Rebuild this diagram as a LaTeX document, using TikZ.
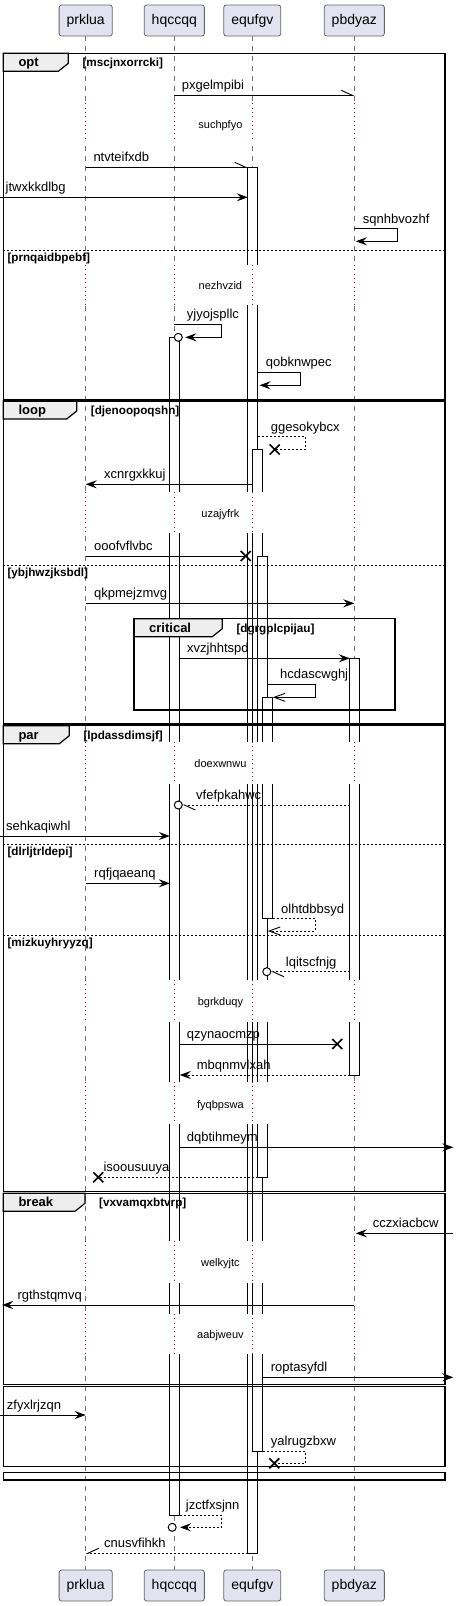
\documentclass[tikz,border=0pt]{standalone}
\usepackage{fontspec}
\setmainfont{Liberation Sans}
\usetikzlibrary{arrows.meta,positioning}

\definecolor{boxfill}{HTML}{E2E2F0}
\definecolor{tabgray}{HTML}{EEEEEE}
\definecolor{delayred}{HTML}{A80036}

\tikzset{
  actor/.style={draw=black!60, fill=boxfill, rounded corners=2.5pt, line width=0.8pt,
    minimum height=31pt, inner xsep=7.5pt, font=\fontsize{14}{16}\selectfont},
  lifeline/.style={draw=black!55, line width=0.7pt, dash pattern=on 5pt off 5pt},
  delayline/.style={draw=delayred, line width=0.9pt, dash pattern=on 1pt off 3.3pt},
  actbox/.style={draw=black, fill=white, line width=0.8pt},
  msg/.style={draw=black, line width=0.9pt},
  ret/.style={msg, dash pattern=on 2pt off 2pt},
  full/.style={-{Stealth[length=11pt,width=8pt,inset=4pt]}},
  barb/.style={-{Straight Barb[length=11pt,width=8pt]}},
  halfl/.style={-{Straight Barb[length=11pt,width=10pt,left]}},
  halfr/.style={-{Straight Barb[length=11pt,width=10pt,right]}},
  circ/.style={draw=black, fill=white, line width=1pt},
  frame/.style={draw=black, line width=1.5pt},
  tab/.style={draw=black, fill=tabgray, line width=1.2pt},
  sep/.style={draw=black, line width=0.8pt, dash pattern=on 2pt off 2pt},
  lbl/.style={anchor=base west, inner sep=0pt, font=\fontsize{13}{15}\selectfont},
  guard/.style={anchor=base west, inner sep=0pt, font=\bfseries\fontsize{11.7}{13}\selectfont},
  flabel/.style={anchor=base west, inner sep=0pt, font=\bfseries\fontsize{13}{15}\selectfont},
  delaytxt/.style={anchor=base, inner sep=0pt, font=\fontsize{11}{13}\selectfont},
  xcross/.pic={\draw[line width=1.6pt] (-5,-5) -- (5,5) (-5,5) -- (5,-5);}
}

% group frame: name, left, top, right, bottom, tab right, keyword, guard
\newcommand{\groupframe}[8]{%
  \filldraw[tab] (#2,#3) -- (#6,#3) -- (#6,#3+10) -- (#6-10,#3+18) -- (#2,#3+18) -- cycle;
  \draw[frame] (#2,#3) rectangle (#4,#5);
  \node[flabel] (#1) at (#2+15,#3+13.5) {#7};
  \node[guard] (#1-guard) at (#6+14,#3+13.5) {#8};
}
% else separator: name, y, guard
\newcommand{\elsesep}[3]{%
  \draw[sep] (3.3,#2) -- (445,#2);
  \node[guard] (#1) at (7.3,#2+11) {#3};
}

\begin{document}
\begin{tikzpicture}[x=1pt,y=-1pt]
  \useasboundingbox (0,0) rectangle (459,1606);

  % participants and lifelines
  \foreach \n/\x in {prklua/85.7, hqccqq/174.3, equfgv/252.3, pbdyaz/354.3} {
    \node[actor] (\n) at (\x,20.5) {\n};
    \node[actor] (\n-end) at (\x,1585.5) {\n};
    \draw[lifeline] (\n.south) -- (\n-end.north);
  }

  % activation edges and diagram edges
  \coordinate (lft) at (0,0);
  \coordinate (rgt) at (453.3,0);
  \coordinate (hqL) at (169.8,0);  \coordinate (hqR) at (179.8,0);
  \coordinate (pbL) at (349.8,0);  \coordinate (pbR) at (359.8,0);
  \coordinate (eqL1) at (247.8,0); \coordinate (eqR1) at (257.8,0);
  \coordinate (eqL2) at (252.8,0); \coordinate (eqR2) at (262.8,0);
  \coordinate (eqL3) at (257.8,0); \coordinate (eqR3) at (267.8,0);
  \coordinate (eqL4) at (262.8,0); \coordinate (eqR4) at (272.8,0);

  % activations
  \foreach \l/\r/\ya/\yb in {eqL1/eqR1/167.3/1553.3, hqL/hqR/337.3/1515,
      eqL2/eqR2/449.3/1451, eqL3/eqR3/556/1177.3, pbL/pbR/658.3/1075,
      eqL4/eqR4/697.3/918.7}
    \draw[actbox] (\l |- 0,\ya) rectangle (\r |- 0,\yb);

  % delays
  \foreach \ya/\yb/\yt/\txt [count=\i] in {103.3/141/128.8/suchpfyo,
      265/305/289.3/nezhvzid, 492.3/533.3/517.3/uzajyfrk,
      741.7/784/767.3/doexwnwu, 980/1021.7/1005.7/bgrkduqy,
      1081.7/1124.3/1108.7/fyqbpswa, 1241/1283.3/1266.7/welkyjtc,
      1314/1354/1338.3/aabjweuv} {
    \fill[white] (4.5,\ya) rectangle (443.5,\yb);
    \foreach \n in {prklua,hqccqq,equfgv,pbdyaz}
      \draw[delayline] (\n |- 0,\ya) -- (\n |- 0,\yb);
    \node[delaytxt] (delay\i) at (220.4,\yt) {\txt};
  }

  % groups
  \groupframe{optgrp}{3.3}{53.3}{445}{399.3}{68.3}{opt}{[mscjnxorrcki]}
  \elsesep{optelse}{250.3}{[prnqaidbpebf]}
  \groupframe{loopgrp}{3.3}{401}{445}{724}{76.7}{loop}{[djenoopoqshn]}
  \elsesep{loopelse}{565}{[ybjhwzjksbdl]}
  \groupframe{critgrp}{134}{618.7}{395}{710}{222.3}{critical}{[dgrgplcpijau]}
  \groupframe{pargrp}{3.3}{725.7}{445}{1191.7}{69.3}{par}{[lpdassdimsjf]}
  \elsesep{parelse}{844.7}{[dlrljtrldepi]}
  \elsesep{parelsetwo}{935.3}{[mizkuyhryyzq]}
  \groupframe{breakgrp}{3.3}{1193.3}{445}{1384.3}{85}{break}{[vxvamqxbtvrp]}
  \draw[frame] (3.3,1386.3) rectangle (445,1466.7);
  \draw[frame] (3.3,1472.7) rectangle (445,1480);

  % messages
  \draw[msg,halfl] (hqccqq |- 0,95.3) -- (pbdyaz |- 0,95.3);
  \node[lbl] (m1) at (181.7,89.8) {pxgelmpibi};
  \draw[msg,halfl] (prklua |- 0,167.3) -- (eqL1 |- 0,167.3);
  \node[lbl] (m2) at (93.3,161.8) {ntvteifxdb};
  \draw[msg,full] (lft |- 0,197.3) -- (eqL1 |- 0,197.3);
  \node[lbl] (m3) at (5.5,191.8) {jtwxkkdlbg};
  \draw[msg,full] (pbdyaz |- 0,228.7) -- ++(43,0) -- ++(0,12.6) -- ++(-41.5,0);
  \node[lbl] (m4) at (362.7,223.2) {sqnhbvozhf};
  \draw[msg,full] (hqccqq |- 0,324) -- ++(47,0) -- ++(0,13.3) -- ++(-36,0) coordinate (m5end);
  \draw[circ] (m5end) ++(-7,0) circle[radius=4];
  \node[lbl] (m5) at (186.7,318.5) {yjyojspllc};
  \draw[msg,full] (eqR1 |- 0,372.3) -- ++(42.9,0) -- ++(0,13) -- ++(-41.2,0);
  \node[lbl] (m6) at (265.7,366.8) {qobknwpec};
  \draw[ret] (eqR1 |- 0,436.7) -- ++(47.5,0) -- ++(0,12.8) -- ++(-30.6,0) coordinate (m7end);
  \pic at (m7end) {xcross};
  \node[lbl] (m7) at (270.7,431.2) {ggesokybcx};
  \draw[msg,full] (eqL2 |- 0,484.3) -- (prklua |- 0,484.3);
  \node[lbl] (m8) at (104,478.8) {xcnrgxkkuj};
  \draw[msg] (prklua |- 0,556) -- ++(160,0) coordinate (m9end);
  \pic at (m9end) {xcross};
  \node[lbl] (m9) at (94,550.5) {ooofvflvbc};
  \draw[msg,full] (prklua |- 0,603.3) -- (pbdyaz |- 0,603.3);
  \node[lbl] (m10) at (94,597.8) {qkpmejzmvg};
  \draw[msg,full] (hqR |- 0,658.3) -- (pbL |- 0,658.3);
  \node[lbl] (m11) at (187,652.8) {xvzjhhtspd};
  \draw[msg,barb] (eqR3 |- 0,684.3) -- ++(47.5,0) -- ++(0,13) -- (eqR4 |- 0,697.3);
  \node[lbl] (m12) at (280,678.8) {hcdascwghj};
  \draw[ret,halfl] (pbL |- 0,805) -- ([xshift=8pt]hqccqq |- 0,805);
  \draw[circ] ([xshift=4pt]hqccqq |- 0,805) circle[radius=4];
  \node[lbl] (m13) at (196,799.5) {vfefpkahwc};
  \draw[msg,full] (lft |- 0,836) -- (hqL |- 0,836);
  \node[lbl] (m14) at (6,830.5) {sehkaqiwhl};
  \draw[msg,full] (prklua |- 0,883.3) -- (hqL |- 0,883.3);
  \node[lbl] (m15) at (94,877.8) {rqfjqaeanq};
  \draw[ret,barb] (eqR4 |- 0,918.7) -- ++(42.5,0) -- ++(0,12.3) -- (eqR3 |- 0,931);
  \node[lbl] (m16) at (281,913.2) {olhtdbbsyd};
  \draw[ret,halfl] (pbL |- 0,971.7) -- ([xshift=3pt]eqR3 |- 0,971.7);
  \draw[circ] ([xshift=-1pt]eqR3 |- 0,971.7) circle[radius=4];
  \node[lbl] (m17) at (285.7,966.2) {lqitscfnjg};
  \draw[msg] (hqR |- 0,1044) -- ++(157.5,0) coordinate (m18end);
  \pic at (m18end) {xcross};
  \node[lbl] (m18) at (186.7,1038.5) {qzynaocmzp};
  \draw[ret,full] (pbL |- 0,1075) -- (hqR |- 0,1075);
  \node[lbl] (m19) at (196.7,1069.5) {mbqnmvlxah};
  \draw[msg,full] (hqR |- 0,1147.3) -- (rgt |- 0,1147.3);
  \node[lbl] (m20) at (186.7,1141.8) {dqbtihmeym};
  \draw[ret] (eqL3 |- 0,1177.3) -- ++(-159.5,0) coordinate (m21end);
  \pic at (m21end) {xcross};
  \node[lbl] (m21) at (103.3,1171.8) {isoousuuya};
  \draw[msg,full] (rgt |- 0,1233.3) -- ([xshift=1.5pt]pbdyaz |- 0,1233.3);
  \node[lbl] (m22) at (372.7,1227.8) {cczxiacbcw};
  \draw[msg,full] (pbdyaz |- 0,1305) -- ([xshift=2pt]lft |- 0,1305);
  \node[lbl] (m23) at (17.3,1299.5) {rgthstqmvq};
  \draw[msg,full] (eqR2 |- 0,1377.3) -- (rgt |- 0,1377.3);
  \node[lbl] (m24) at (270.7,1371.8) {roptasyfdl};
  \draw[msg,full] (lft |- 0,1415) -- (prklua |- 0,1415);
  \node[lbl] (m25) at (6.7,1409.5) {zfyxlrjzqn};
  \draw[ret] (eqR2 |- 0,1451) -- ++(42.5,0) -- ++(0,12.3) -- ++(-31,0) coordinate (m26end);
  \pic at (m26end) {xcross};
  \node[lbl] (m26) at (270.7,1445.5) {yalrugzbxw};
  \draw[ret,full] (hqR |- 0,1515) -- ++(41.5,0) -- ++(0,12.3) -- ++(-41.3,0) coordinate (m27end);
  \draw[circ] (m27end) ++(-7.8,0) circle[radius=4];
  \node[lbl] (m27) at (185.7,1509.5) {jzctfxsjnn};
  \draw[ret,halfr] (eqL1 |- 0,1553.3) -- (prklua |- 0,1553.3);
  \node[lbl] (m28) at (104,1547.8) {cnusvfihkh};
\end{tikzpicture}
\end{document}
